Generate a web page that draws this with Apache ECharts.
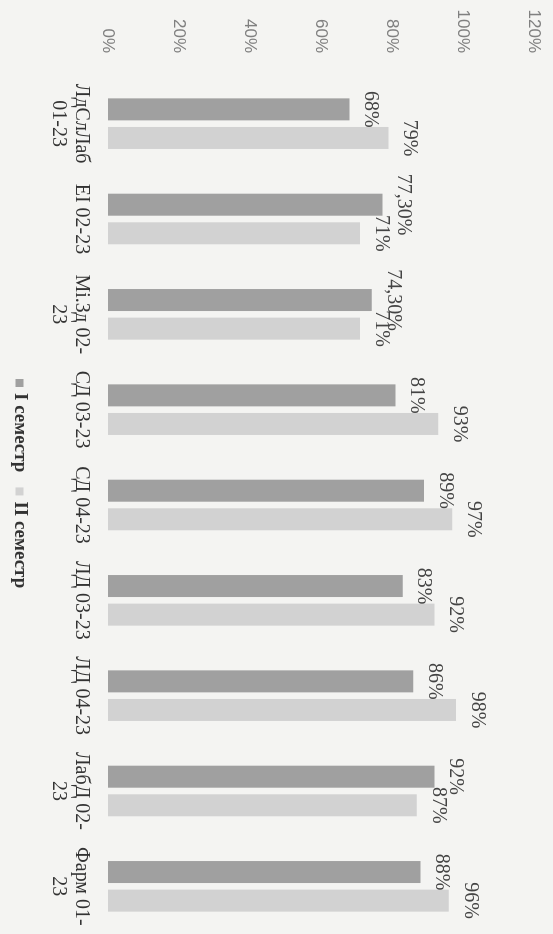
<!DOCTYPE html>
<html>
<head>
<meta charset="utf-8">
<script src="https://cdn.jsdelivr.net/npm/echarts@6/dist/echarts.min.js"></script>
<style>
  html, body { margin: 0; padding: 0; background: #f4f4f2; overflow: hidden; }
  #wrap { position: absolute; left: 0; top: 0; width: 553px; height: 934px; overflow: hidden; }
  #chart { position: absolute; left: 0; top: 0; width: 934px; height: 553px;
           transform-origin: 0 0; transform: translate(553px, 0) rotate(90deg); }
</style>
</head>
<body>
<div id="wrap"><div id="chart"></div></div>
<script>
const categories = ['ЛдСлЛаб\n01-23', 'ЕІ 02-23', 'Мі.Зд 02-\n23', 'СД 03-23', 'СД 04-23', 'ЛД 03-23', 'ЛД 04-23', 'ЛабД 02-\n23', 'Фарм 01-\n23'];
const semester1 = [68, 77.3, 74.3, 81, 89, 83, 86, 92, 88];
const semester2 = [79, 71, 71, 93, 97, 92, 98, 87, 96];
const seriesNames = ['I семестр', 'II семестр'];
const valueTicks = { min: 0, max: 120, interval: 20 };

function fmt(v) {
  return (v % 1 ? v.toFixed(2).replace('.', ',') : String(v)) + '%';
}

const labelStyle = {
  show: true,
  position: 'top',
  distance: 11,
  fontFamily: 'Liberation Serif',
  fontSize: 20,
  color: '#444',
  formatter: p => fmt(p.value)
};

const chart = echarts.init(document.getElementById('chart'), null, { renderer: 'canvas', width: 934, height: 553 });
chart.setOption({
  backgroundColor: '#f4f4f2',
  animation: false,
  grid: { left: 76, right: -12, top: 19, bottom: 108 },
  legend: {
    data: seriesNames,
    left: 374,
    bottom: 5,
    itemWidth: 8,
    itemHeight: 8,
    itemGap: 15,
    icon: 'rect',
    textStyle: { fontFamily: 'Liberation Serif', fontWeight: 'bold', fontSize: 19, color: '#333', padding: [0, 0, 0, 1] }
  },
  xAxis: {
    type: 'category',
    data: categories,
    axisLine: { show: false },
    axisTick: { show: false },
    axisLabel: {
      interval: 0,
      margin: 15,
      fontFamily: 'Liberation Serif',
      fontSize: 20,
      lineHeight: 23,
      color: '#333'
    }
  },
  yAxis: {
    type: 'value',
    min: valueTicks.min,
    max: valueTicks.max,
    interval: valueTicks.interval,
    axisLine: { show: false },
    axisTick: { show: false },
    splitLine: { show: false },
    axisLabel: {
      margin: 23,
      fontFamily: 'Liberation Sans',
      fontSize: 17,
      color: '#808080',
      formatter: '{value}%'
    }
  },
  series: [
    {
      name: seriesNames[0],
      type: 'bar',
      data: semester1,
      barWidth: 22,
      barGap: '30%',
      itemStyle: { color: '#a0a0a0' },
      label: labelStyle
    },
    {
      name: seriesNames[1],
      type: 'bar',
      data: semester2,
      barWidth: 22,
      barGap: '30%',
      itemStyle: { color: '#d2d2d2' },
      label: labelStyle
    }
  ]
});
</script>
</body>
</html>
